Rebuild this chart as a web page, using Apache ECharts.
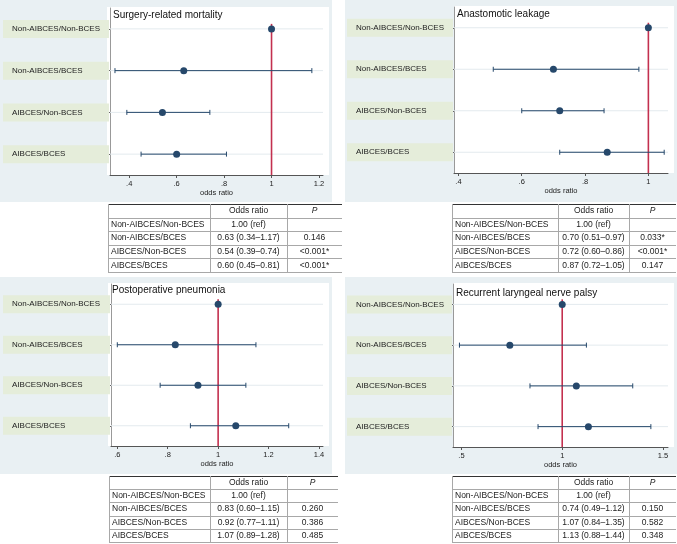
<!DOCTYPE html>
<html>
<head>
<meta charset="utf-8">
<script src="https://cdn.jsdelivr.net/npm/echarts@6/dist/echarts.min.js"></script>
<style>
  html, body { margin: 0; padding: 0; background: #fff; }
  #chart { width: 677px; height: 544px; }
</style>
</head>
<body>
<div id="chart"></div>
<script>
// 分组与标题
const rowLabels = ['Non-AIBCES/Non-BCES', 'Non-AIBCES/BCES', 'AIBCES/Non-BCES', 'AIBCES/BCES'];
const titles = ['Surgery-related mortality', 'Anastomotic leakage', 'Postoperative pneumonia', 'Recurrent laryngeal nerve palsy'];

// 各结局的 OR、95%CI 和 P 值（第一行为参照组）
const mortalityOR = [1.00, 0.63, 0.54, 0.60];
const mortalityLo = [null, 0.34, 0.39, 0.45];
const mortalityHi = [null, 1.17, 0.74, 0.81];
const mortalityP = ['', '0.146', '<0.001*', '<0.001*'];

const leakageOR = [1.00, 0.70, 0.72, 0.87];
const leakageLo = [null, 0.51, 0.60, 0.72];
const leakageHi = [null, 0.97, 0.86, 1.05];
const leakageP = ['', '0.033*', '<0.001*', '0.147'];

const pneumoniaOR = [1.00, 0.83, 0.92, 1.07];
const pneumoniaLo = [null, 0.60, 0.77, 0.89];
const pneumoniaHi = [null, 1.15, 1.11, 1.28];
const pneumoniaP = ['', '0.260', '0.386', '0.485'];

const palsyOR = [1.00, 0.74, 1.07, 1.13];
const palsyLo = [null, 0.49, 0.84, 0.88];
const palsyHi = [null, 1.12, 1.35, 1.44];
const palsyP = ['', '0.150', '0.582', '0.348'];

// x 轴刻度
const mortalityTicks = [0.4, 0.6, 0.8, 1, 1.2];
const leakageTicks = [0.4, 0.6, 0.8, 1];
const pneumoniaTicks = [0.6, 0.8, 1, 1.2, 1.4];
const palsyTicks = [0.5, 1, 1.5];

const refValue = 1;

// 布局
const panels = [
    { or: mortalityOR, lo: mortalityLo, hi: mortalityHi, p: mortalityP, ticks: mortalityTicks, xMin: 0.319, xMax: 1.217,
      bg: [0, 0, 332, 202], boxLeft: 0, grid: [107, 8, 216, 167], titlePos: [113, 10],
      table: { cols: [108, 210, 287, 342], top: 204, rowH: 13.6 } },
    { or: leakageOR, lo: leakageLo, hi: leakageHi, p: leakageP, ticks: leakageTicks, xMin: 0.386, xMax: 1.062,
      bg: [345, 0, 332, 202], boxLeft: 347, grid: [454, 7, 214, 166], titlePos: [457, 9],
      table: { cols: [452, 558, 629, 676], top: 204, rowH: 13.6 } },
    { or: pneumoniaOR, lo: pneumoniaLo, hi: pneumoniaHi, p: pneumoniaP, ticks: pneumoniaTicks, xMin: 0.575, xMax: 1.416,
      bg: [0, 277, 332, 197], boxLeft: 0, grid: [108, 284, 215, 162], titlePos: [112, 285],
      table: { cols: [109, 210, 287, 338], top: 476, rowH: 13.2 } },
    { or: palsyOR, lo: palsyLo, hi: palsyHi, p: palsyP, ticks: palsyTicks, xMin: 0.458, xMax: 1.525,
      bg: [345, 277, 332, 197], boxLeft: 347, grid: [453, 284, 215, 163], titlePos: [456, 288],
      table: { cols: [452, 558, 629, 676], top: 476, rowH: 13.2 } }
];

const navy = '#26486b';
const font = '"Liberation Sans", Arial, sans-serif';
const fmtTick = v => String(v).replace(/^0\./, '.');
const fmtOR = (p, k) => k === 0 ? '1.00 (ref)'
    : p.or[k].toFixed(2) + ' (' + p.lo[k].toFixed(2) + '–' + p.hi[k].toFixed(2) + ')';

const option = {
    animation: false,
    textStyle: { fontFamily: font },
    title: [], grid: [], xAxis: [], yAxis: [], series: [], graphic: { elements: [] }
};
const els = option.graphic.elements;

panels.forEach((p, i) => {
    const [gl, gt, gw, gh] = p.grid;

    // 背景
    els.push({ type: 'rect', z: -20, shape: { x: p.bg[0], y: p.bg[1], width: p.bg[2], height: p.bg[3] }, style: { fill: '#e9f0f3' } });
    els.push({ type: 'rect', z: -19, shape: { x: gl, y: gt - 1, width: gw + 6, height: gh + 1 }, style: { fill: '#ffffff' } });

    option.title.push({
        text: titles[i], left: p.titlePos[0], top: p.titlePos[1], padding: 0,
        textStyle: { fontSize: 10, fontWeight: 'normal', color: '#111', fontFamily: font }
    });

    option.grid.push({ left: gl, top: gt, width: gw, height: gh });

    option.xAxis.push({
        gridIndex: i, type: 'value', min: p.xMin, max: p.xMax,
        name: 'odds ratio', nameLocation: 'middle', nameGap: 12,
        nameTextStyle: { fontSize: 7.5, color: '#222', fontFamily: font },
        axisLine: { show: true, lineStyle: { color: '#555', width: 1 } },
        axisTick: { show: true, customValues: p.ticks, length: 3, lineStyle: { color: '#555' } },
        axisLabel: { customValues: p.ticks, formatter: fmtTick, fontSize: 7.5, color: '#222', margin: 5, fontFamily: font },
        splitLine: { show: false }
    });

    option.yAxis.push({
        gridIndex: i, type: 'category', inverse: true, data: rowLabels,
        axisLine: { show: true, lineStyle: { color: '#999', width: 1 } },
        axisTick: { show: true, alignWithLabel: true, length: 2, lineStyle: { color: '#666' } },
        axisLabel: {
            margin: 1, interval: 0,
            formatter: v => '{box|' + v + '}',
            rich: {
                box: {
                    width: gl - 1 - p.boxLeft - 9, height: 18, padding: [0, 0, 0, 9],
                    backgroundColor: '#e5edda', align: 'left', verticalAlign: 'middle',
                    fontSize: 8, color: '#222', fontFamily: font
                }
            }
        },
        splitLine: { show: false }
    });

    // 行网格线
    option.series.push({
        type: 'custom', xAxisIndex: i, yAxisIndex: i, z: 1, silent: true,
        data: rowLabels.map((_, k) => [p.or[k], k]),
        renderItem: (params, api) => {
            const cs = params.coordSys;
            const y = api.coord([api.value(0), api.value(1)])[1];
            return { type: 'line', shape: { x1: cs.x, y1: y, x2: cs.x + cs.width, y2: y },
                     style: { stroke: '#e3eaee', lineWidth: 1 } };
        }
    });

    // 参照线 OR = 1
    option.series.push({
        type: 'custom', xAxisIndex: i, yAxisIndex: i, z: 2, silent: true,
        data: [[refValue, 0]],
        renderItem: (params, api) => {
            const cs = params.coordSys;
            const pt = api.coord([api.value(0), api.value(1)]);
            return { type: 'line', shape: { x1: pt[0], y1: pt[1] - 5, x2: pt[0], y2: cs.y + cs.height },
                     style: { stroke: '#c3304f', lineWidth: 1.6 } };
        }
    });

    // 置信区间
    option.series.push({
        type: 'custom', xAxisIndex: i, yAxisIndex: i, z: 3, silent: true,
        data: rowLabels.map((_, k) => [p.or[k], k, p.lo[k], p.hi[k]]),
        renderItem: (params, api) => {
            const k = api.value(1), lo = api.value(2), hi = api.value(3);
            if (isNaN(lo) || isNaN(hi)) return null;
            const a = api.coord([lo, k]), b = api.coord([hi, k]);
            const st = { stroke: navy, lineWidth: 1 };
            return { type: 'group', children: [
                { type: 'line', shape: { x1: a[0], y1: a[1], x2: b[0], y2: b[1] }, style: st },
                { type: 'line', shape: { x1: a[0], y1: a[1] - 2.5, x2: a[0], y2: a[1] + 2.5 }, style: st },
                { type: 'line', shape: { x1: b[0], y1: b[1] - 2.5, x2: b[0], y2: b[1] + 2.5 }, style: st }
            ] };
        }
    });

    // 点估计
    option.series.push({
        type: 'scatter', xAxisIndex: i, yAxisIndex: i, z: 4, silent: true,
        symbolSize: 7, itemStyle: { color: navy, opacity: 1 },
        data: rowLabels.map((_, k) => [p.or[k], k])
    });

    // 下方表格
    const t = p.table;
    const [c0, c1, c2, c3] = t.cols;
    const bottom = t.top + t.rowH * 5;
    for (let r = 0; r <= 5; r++) {
        const y = Math.round(t.top + r * t.rowH) + 0.5;
        els.push({ type: 'line', z: 10, shape: { x1: c0, y1: y, x2: c3, y2: y },
                   style: { stroke: r === 0 ? '#333' : '#a8a8a8', lineWidth: 1 } });
    }
    [c0, c1, c2].forEach(x => {
        els.push({ type: 'line', z: 10, shape: { x1: x + 0.5, y1: t.top, x2: x + 0.5, y2: bottom },
                   style: { stroke: '#a8a8a8', lineWidth: 1 } });
    });
    const cell = (text, x, r, align, italic) => els.push({
        type: 'text', z: 11, x: x, y: t.top + (r + 0.5) * t.rowH,
        style: { text: text, fill: '#222', font: (italic ? 'italic ' : '') + '8.5px ' + font,
                 align: align, textAlign: align, verticalAlign: 'middle', textVerticalAlign: 'middle' }
    });
    cell('Odds ratio', (c1 + c2) / 2, 0, 'center');
    cell('P', (c2 + c3) / 2, 0, 'center', true);
    rowLabels.forEach((lab, k) => {
        cell(lab, c0 + 3, k + 1, 'left');
        cell(fmtOR(p, k), (c1 + c2) / 2, k + 1, 'center');
        cell(p.p[k], (c2 + c3) / 2, k + 1, 'center');
    });
});

const chart = echarts.init(document.getElementById('chart'));
chart.setOption(option);
window.addEventListener('resize', () => chart.resize());
</script>
</body>
</html>
